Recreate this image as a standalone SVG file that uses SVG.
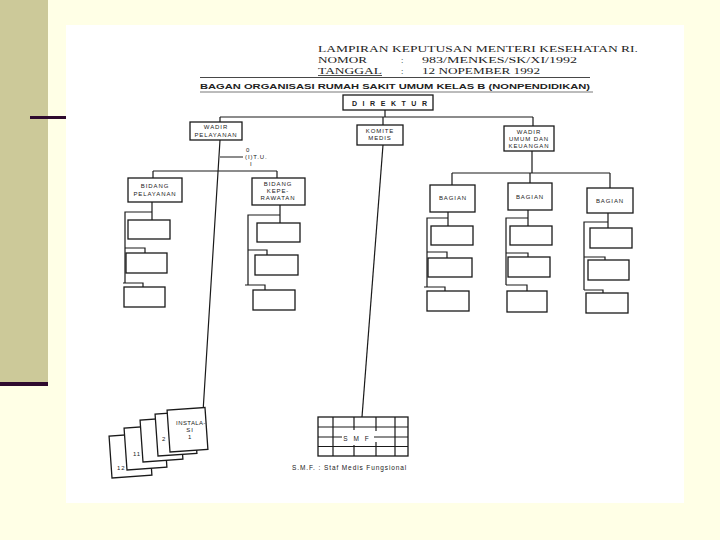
<svg xmlns="http://www.w3.org/2000/svg" width="720" height="540" viewBox="0 0 720 540">
<style>
.ln{stroke:#1a1a1a;stroke-width:1.2;fill:none}
.bx{fill:#fff;stroke:#1a1a1a;stroke-width:1.3}
.t{font-family:"Liberation Sans",Arial,sans-serif;fill:#222;font-size:6px;letter-spacing:0.9px;text-anchor:middle}
.h{font-family:"Liberation Serif","Times New Roman",serif;fill:#222;font-size:8.5px}
</style>
<rect x="0" y="0" width="720" height="540" fill="#FFFFE6"/>
<rect x="0" y="0" width="48" height="382" fill="#CCC999"/>
<rect x="0" y="382" width="48" height="4" fill="#2E0A2E"/>
<rect x="30" y="116" width="36" height="3" fill="#2E0A2E"/>
<rect x="66" y="25" width="618" height="478" fill="#fff"/>

<g id="header">
<text class="h" x="318" y="52" textLength="320" lengthAdjust="spacingAndGlyphs">LAMPIRAN KEPUTUSAN MENTERI KESEHATAN RI.</text>
<text class="h" x="318" y="63" textLength="49" lengthAdjust="spacingAndGlyphs">NOMOR</text>
<text class="h" x="401" y="63">:</text>
<text class="h" x="422" y="63" textLength="155" lengthAdjust="spacingAndGlyphs">983/MENKES/SK/XI/1992</text>
<text class="h" x="318" y="74" textLength="64" lengthAdjust="spacingAndGlyphs">TANGGAL</text>
<line x1="318" y1="75.5" x2="382" y2="75.5" stroke="#222" stroke-width="0.8"/>
<text class="h" x="401" y="74">:</text>
<text class="h" x="422" y="74" textLength="118" lengthAdjust="spacingAndGlyphs">12 NOPEMBER 1992</text>
<line x1="200" y1="77.5" x2="590" y2="77.5" stroke="#333" stroke-width="0.9"/>
<text x="200" y="89" font-family="Liberation Sans,Arial,sans-serif" font-size="7" font-weight="bold" fill="#222" textLength="390" lengthAdjust="spacingAndGlyphs">BAGAN ORGANISASI RUMAH SAKIT UMUM KELAS B (NONPENDIDIKAN)</text>
<line x1="200" y1="92" x2="593" y2="92" stroke="#555" stroke-width="0.8"/>
</g>

<g id="connectors">
<path class="ln" d="M385 110 V117 M220 117 H533 M220 117 V122 M383 117 V125 M533 117 V126"/>
<path class="ln" d="M220 140 L203 412 M220 157 H243 M153 171 H277 M153 171 V178 M277 171 V178"/>
<path class="ln" d="M383 145 L362 417"/>
<path class="ln" d="M532 151 V173 M452 173 H610 M452 173 V185 M530 173 V183 M610 173 V188"/>
<path class="ln" d="M152 202 V220 M152 212 H125 V283 M125 248 H145 V253 M123 283 H143 V287"/>
<path class="ln" d="M280 205 V223 M280 215 H248 V285 M248 250 H267 V255 M245 285 H265 V290"/>
<path class="ln" d="M448 212 V226 M448 218 H427 V287 M427 252 H447 V258 M424 287 H445 V291"/>
<path class="ln" d="M528 210 V226 M528 218 H506 V285 M506 253 H528 V257 M506 285 H527 V291"/>
<path class="ln" d="M608 213 V228 M608 222 H584 V290 M584 257 H605 V260 M584 290 H603 V293"/>
</g>

<g id="direktur"><rect class="bx" x="343" y="95" width="90" height="15"/><text x="352" y="106" font-family="Liberation Sans,Arial,sans-serif" font-size="7" font-weight="bold" fill="#222" textLength="75" lengthAdjust="spacing">DIREKTUR</text></g>
<g id="wadir-pelayanan"><rect class="bx" x="190" y="122" width="52" height="18"/><text class="t" x="216" y="129">WADIR</text><text class="t" x="216" y="137">PELAYANAN</text></g>
<g id="itu"><text class="t" x="246" y="152" style="text-anchor:start">0</text><text class="t" x="245" y="159" style="text-anchor:start">(I)T.U.</text><text class="t" x="250" y="166" style="text-anchor:start">I</text></g>
<g id="komite-medis"><rect class="bx" x="357" y="125" width="46" height="20"/><text class="t" x="380" y="133">KOMITE</text><text class="t" x="380" y="140">MEDIS</text></g>
<g id="wadir-umum"><rect class="bx" x="504" y="126" width="50" height="25"/><text class="t" x="529" y="134">WADIR</text><text class="t" x="529" y="141">UMUM DAN</text><text class="t" x="529" y="148">KEUANGAN</text></g>

<g id="bidang-pelayanan"><rect class="bx" x="128" y="178" width="54" height="24"/><text class="t" x="155" y="188">BIDANG</text><text class="t" x="155" y="196">PELAYANAN</text></g>
<g id="bidang-keperawatan"><rect class="bx" x="252" y="178" width="53" height="27"/><text class="t" x="278" y="186">BIDANG</text><text class="t" x="278" y="193">KEPE-</text><text class="t" x="278" y="200">RAWATAN</text></g>
<g id="bagian-1"><rect class="bx" x="430" y="185" width="45" height="27"/><text class="t" x="453" y="200">BAGIAN</text></g>
<g id="bagian-2"><rect class="bx" x="508" y="183" width="44" height="27"/><text class="t" x="530" y="199">BAGIAN</text></g>
<g id="bagian-3"><rect class="bx" x="587" y="188" width="46" height="25"/><text class="t" x="610" y="203">BAGIAN</text></g>

<g id="sub-pelayanan"><rect class="bx" x="128" y="220" width="42" height="19"/><rect class="bx" x="126" y="253" width="41" height="20"/><rect class="bx" x="124" y="287" width="41" height="20"/></g>
<g id="sub-keperawatan"><rect class="bx" x="257" y="223" width="43" height="19"/><rect class="bx" x="255" y="255" width="43" height="20"/><rect class="bx" x="253" y="290" width="42" height="20"/></g>
<g id="sub-bagian-1"><rect class="bx" x="431" y="226" width="42" height="19"/><rect class="bx" x="428" y="258" width="44" height="19"/><rect class="bx" x="427" y="291" width="42" height="20"/></g>
<g id="sub-bagian-2"><rect class="bx" x="510" y="226" width="42" height="19"/><rect class="bx" x="508" y="257" width="42" height="20"/><rect class="bx" x="507" y="291" width="40" height="21"/></g>
<g id="sub-bagian-3"><rect class="bx" x="590" y="228" width="42" height="20"/><rect class="bx" x="588" y="260" width="41" height="20"/><rect class="bx" x="586" y="293" width="42" height="20"/></g>

<g id="instalasi">
<rect class="bx" x="112" y="436" width="40" height="42" transform="rotate(-4 112 478)"/>
<rect class="bx" x="127" y="428" width="40" height="42" transform="rotate(-4 127 470)"/>
<rect class="bx" x="143" y="420" width="40" height="42" transform="rotate(-4 143 462)"/>
<rect class="bx" x="158" y="414" width="39" height="42" transform="rotate(-4 158 456)"/>
<rect class="bx" x="170" y="410" width="38" height="42" transform="rotate(-4 170 452)"/>
<text class="t" x="117" y="470" style="text-anchor:start">12</text>
<text class="t" x="133" y="456" style="text-anchor:start">11</text>
<text class="t" x="162" y="441" style="text-anchor:start">2</text>
<text class="t" x="191" y="425" style="letter-spacing:0.4px">INSTALA-</text>
<text class="t" x="190" y="432">SI</text>
<text class="t" x="190" y="439">1</text>
</g>

<g id="smf">
<rect class="bx" x="318" y="417" width="90" height="39"/>
<path class="ln" d="M318 427 H408 M318 446.5 H408 M318 437 H342 M374 437 H408 M333 417 V456 M395 417 V456 M354 417 V430 M354 445 V456 M376 417 V431 M376 442 V456"/>
<text class="t" x="357" y="441" style="font-size:6.5px;letter-spacing:2px">S M F</text>
</g>
<text id="smf-caption" class="t" x="292" y="470" style="text-anchor:start;font-size:6.5px">S.M.F. : Staf Medis Fungsional</text>
</svg>
